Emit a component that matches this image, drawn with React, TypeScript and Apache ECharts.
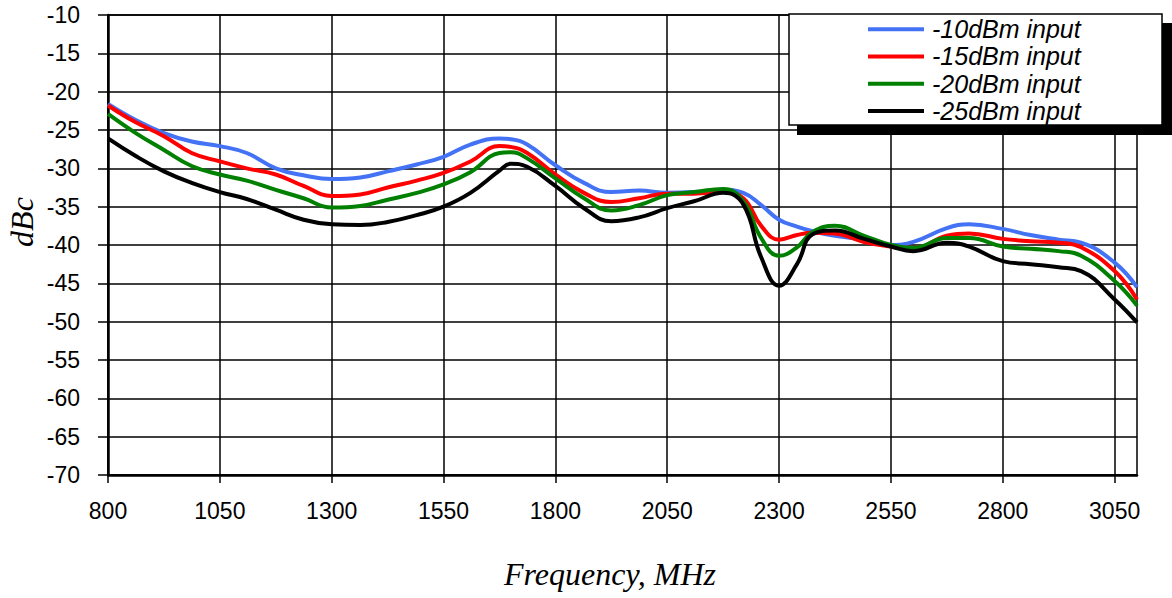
import React, { useEffect, useRef } from "react";
import * as echarts from "echarts";

const freqs = [800, 862, 925, 987, 1050, 1110, 1175, 1237, 1300, 1364, 1425, 1490, 1550, 1610, 1675, 1700, 1737, 1800, 1864, 1925, 1987, 2050, 2110, 2175, 2220, 2260, 2300, 2340, 2375, 2425, 2490, 2550, 2600, 2675, 2725, 2800, 2862, 2925, 2975, 3050, 3100];

const dBm10 = [-21.6, -23.7, -25.4, -26.5, -27.1, -28.0, -30.0, -30.9, -31.4, -31.2, -30.4, -29.5, -28.5, -26.9, -26.1, -26.2, -26.9, -29.6, -31.9, -33.1, -32.9, -33.2, -33.1, -32.8, -33.2, -34.8, -36.7, -37.6, -38.2, -38.8, -39.3, -40.0, -39.6, -37.8, -37.3, -37.9, -38.7, -39.3, -39.7, -42.3, -45.5];
const dBm15 = [-21.8, -24.0, -25.8, -28.0, -29.1, -30.0, -30.8, -32.3, -33.6, -33.4, -32.5, -31.6, -30.6, -29.1, -27.1, -27.2, -28.0, -30.8, -33.2, -34.4, -33.9, -33.3, -33.3, -33.1, -33.9, -37.5, -39.3, -38.7, -38.4, -38.5, -39.6, -40.2, -40.4, -38.8, -38.5, -39.2, -39.5, -39.7, -40.3, -43.4, -47.1];
const dBm20 = [-22.9, -25.4, -27.6, -29.7, -30.8, -31.6, -32.8, -33.9, -35.1, -34.9, -34.1, -33.2, -32.1, -30.5, -28.0, -27.9, -28.7, -31.3, -33.9, -35.5, -34.8, -33.5, -33.1, -32.7, -34.3, -39.1, -41.4, -40.3, -38.3, -37.5, -38.8, -40.0, -40.4, -39.1, -39.1, -40.2, -40.5, -40.8, -41.4, -44.7, -47.9];
const dBm25 = [-26.1, -28.4, -30.4, -31.9, -33.1, -34.0, -35.4, -36.7, -37.3, -37.4, -37.0, -36.1, -35.0, -33.2, -30.3, -29.4, -29.8, -32.3, -35.2, -36.9, -36.4, -35.2, -34.3, -33.2, -34.7, -41.6, -45.3, -42.5, -38.6, -38.1, -39.2, -40.2, -40.8, -39.7, -40.2, -42.1, -42.5, -42.9, -43.4, -47.1, -50.1];

const seriesNames = ["-10dBm input", "-15dBm input", "-20dBm input", "-25dBm input"];
const seriesValues = [dBm10, dBm15, dBm20, dBm25];
const seriesColors = ["#4472F4", "#FF0000", "#008000", "#000000"];

const xLabelValues = [800, 1050, 1300, 1550, 1800, 2050, 2300, 2550, 2800, 3050];
const xTitle = "Frequency, MHz";
const yTitle = "dBc";

const SANS = "'Liberation Sans', Arial, sans-serif";
const SERIF = "'Liberation Serif', 'Times New Roman', serif";

export default function App() {
  const ref = useRef<HTMLDivElement>(null);
  useEffect(() => {
    const chart = echarts.init(ref.current!, null, { renderer: "svg" });
    chart.setOption({
      animation: false,
      backgroundColor: "#ffffff",
      grid: {
        left: 108,
        right: 35,
        top: 15,
        bottom: 123,
        show: true,
        borderColor: "#000",
        borderWidth: 1.5,
        outerBoundsMode: "none",
      },
      xAxis: {
        type: "value",
        min: 800,
        max: 3100,
        interval: 125,
        axisLine: { show: true, onZero: false, lineStyle: { color: "#000", width: 2.5 } },
        axisTick: {
          show: true,
          inside: false,
          length: 8,
          customValues: xLabelValues,
          lineStyle: { color: "#000", width: 1.5 },
        },
        axisLabel: {
          customValues: xLabelValues,
          formatter: (v: number) => String(v),
          margin: 24,
          fontSize: 23,
          fontFamily: SANS,
          color: "#000",
        },
        splitLine: { show: true, lineStyle: { color: "#000", width: 1.5 } },
      },
      yAxis: {
        type: "value",
        min: -70,
        max: -10,
        interval: 5,
        axisLine: { show: true, onZero: false, lineStyle: { color: "#000", width: 2.5 } },
        axisTick: { show: true, inside: false, length: 10, lineStyle: { color: "#000", width: 1.5 } },
        axisLabel: {
          formatter: (v: number) => String(v),
          margin: 28,
          fontSize: 23,
          fontFamily: SANS,
          color: "#000",
        },
        splitLine: { show: true, lineStyle: { color: "#000", width: 1.5 } },
      },
      legend: {
        show: true,
        orient: "vertical",
        left: 868,
        top: 15.5,
        padding: 0,
        itemGap: 0,
        itemWidth: 56,
        itemHeight: 4,
        z: 100,
        icon: "rect",
        data: seriesNames.map((n, i) => ({ name: n, itemStyle: { color: seriesColors[i] } })),
        textStyle: {
          fontSize: 25,
          fontStyle: "italic",
          fontFamily: SANS,
          color: "#000",
          lineHeight: 27.3,
          padding: [0, 0, 0, 3],
        },
      },
      graphic: [
        {
          type: "rect",
          z: 50,
          shape: { x: 797, y: 23, width: 375, height: 112 },
          style: { fill: "#000" },
        },
        {
          type: "rect",
          z: 51,
          shape: { x: 789, y: 14, width: 373, height: 111 },
          style: { fill: "#fff", stroke: "#000", lineWidth: 1.5 },
        },
        {
          type: "text",
          x: 610,
          y: 574,
          style: {
            text: xTitle,
            font: `italic 32px ${SERIF}`,
            fill: "#000",
            align: "center",
            verticalAlign: "middle",
          },
        },
        {
          type: "text",
          x: 22,
          y: 222,
          rotation: Math.PI / 2,
          style: {
            text: yTitle,
            font: `italic 32px ${SERIF}`,
            fill: "#000",
            align: "center",
            verticalAlign: "middle",
          },
        },
      ],
      series: seriesNames.map((name, i) => ({
        name,
        type: "line",
        smooth: 0.45,
        symbol: "none",
        showSymbol: false,
        z: 5,
        lineStyle: { color: seriesColors[i], width: 4 },
        itemStyle: { color: seriesColors[i] },
        data: freqs.map((f, k) => [f, seriesValues[i][k]]),
      })),
    });
    return () => chart.dispose();
  }, []);
  return (
    <div
      ref={ref}
      style={{ position: "fixed", left: 0, top: 0, width: 1172, height: 598, background: "#fff" }}
    />
  );
}
